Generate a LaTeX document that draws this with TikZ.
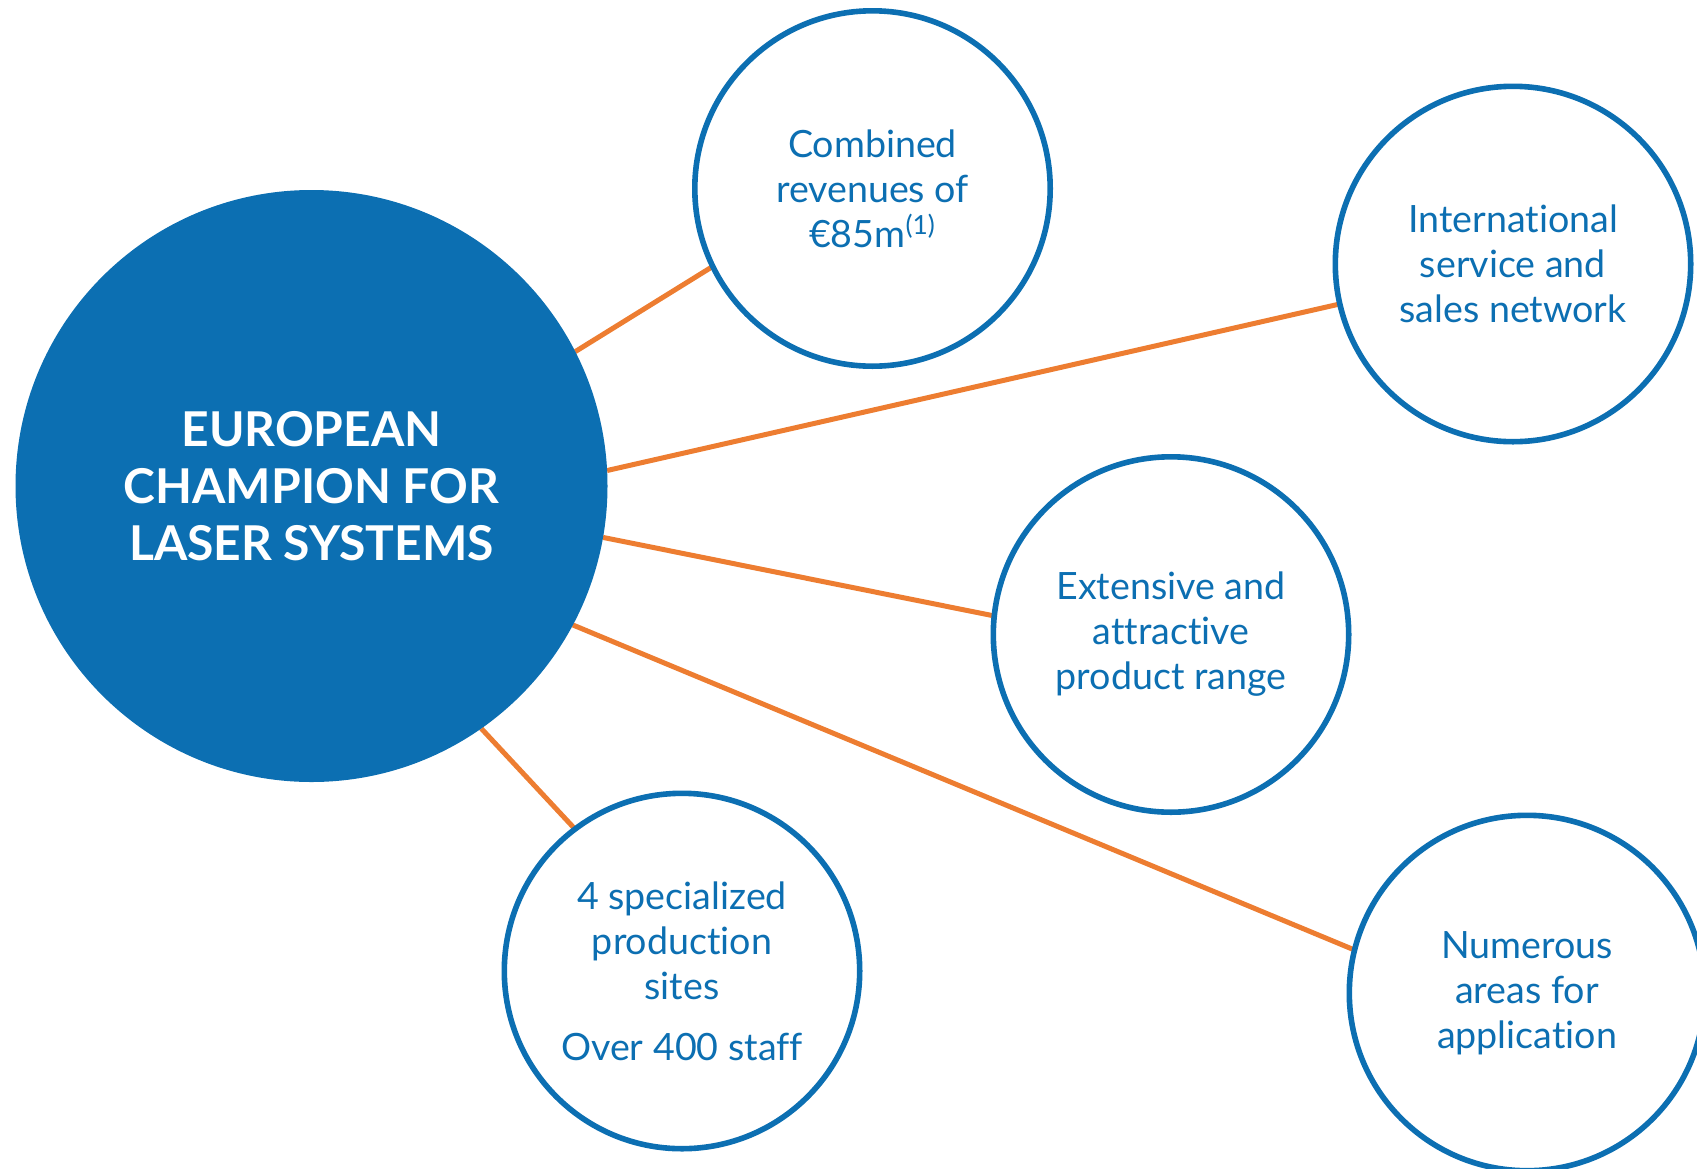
\documentclass[tikz,border=0pt]{standalone}
\usepackage{fontspec}
\setmainfont{Lato}[Ligatures=NoCommon]
\usetikzlibrary{backgrounds}
\definecolor{hubblue}{HTML}{0C6FB2}
\definecolor{linkorange}{HTML}{ED7D31}
\tikzset{
  hub/.style={circle, fill=hubblue, inner sep=0pt, outer sep=0pt,
    minimum size=296pt, text=white, align=center,
    font=\fontsize{24}{28.5}\selectfont\bfseries},
  fact/.style={circle, draw=hubblue, line width=2.8pt, fill=white,
    inner sep=0pt, outer sep=0pt, minimum size=177.7pt, text=hubblue,
    align=center, font=\fontsize{18.8}{22.5}\selectfont},
  link/.style={draw=linkorange, line width=2.5pt}
}
\begin{document}
\begin{tikzpicture}[x=0.5pt,y=-0.5pt]
  \path[use as bounding box, clip] (0,0) rectangle (1697,1168);

  % central hub and the five facts around it
  \node[hub] (hub) at (311.5,486) {EUROPEAN\\CHAMPION FOR\\LASER SYSTEMS};
  \node[fact] (rev) at (872.5,188.5) {Combined\\revenues of\\€85m\textsuperscript{(1)}};
  \node[fact] (net) at (1513,264) {International\\service and\\sales network};
  \node[fact] (prod) at (1171,634.5) {Extensive and\\attractive\\product range};
  \node[fact] (sites) at (682,971) {4 specialized\\production\\sites\\[8pt]Over 400 staff};
  \node[fact] (apps) at (1527,993) {Numerous\\areas for\\application};

  % connectors behind the circles
  \begin{scope}[on background layer]
    \draw[link] (hub.27)  -- (rev.206);
    \draw[link] (hub.3.6) -- (net.193.9);
    \draw[link] (hub.-10.3) -- (prod.174);
    \draw[link] (hub.-28.5) -- (apps.166.6);
    \draw[link] (hub.-55.7) -- (sites.127.9);
  \end{scope}
\end{tikzpicture}
\end{document}
